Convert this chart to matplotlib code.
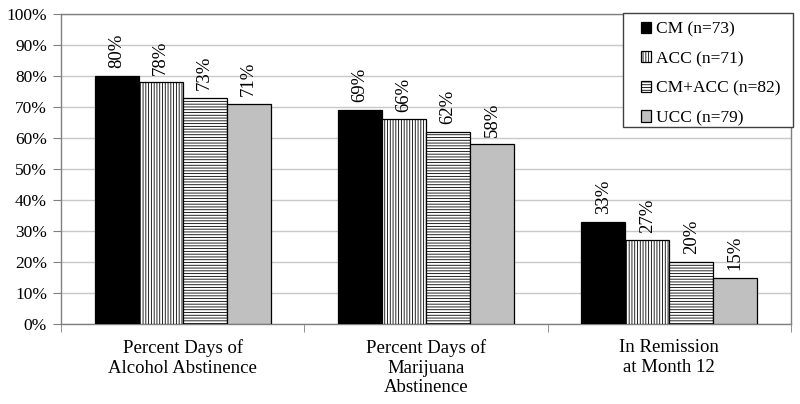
import matplotlib.pyplot as plt
from matplotlib.patches import Rectangle
import numpy as np

plt.rcParams['font.family'] = ['Liberation Serif', 'DejaVu Serif']
plt.rcParams['hatch.linewidth'] = 0.6
plt.rcParams['hatch.color'] = 'black'

categories = ['Percent Days of\nAlcohol Abstinence',
              'Percent Days of\nMarijuana\nAbstinence',
              'In Remission\nat Month 12']
series = ['CM (n=73)', 'ACC (n=71)', 'CM+ACC (n=82)', 'UCC (n=79)']
cm = [80, 69, 33]
acc = [78, 66, 27]
cm_acc = [73, 62, 20]
ucc = [71, 58, 15]

values = [cm, acc, cm_acc, ucc]
faces = ['black', 'white', 'white', '#c0c0c0']
hatches = [None, '||||||', '------', None]

W, H = 800, 404
fig = plt.figure(figsize=(W / 100, H / 100), dpi=100)
ax = fig.add_axes([61 / W, 80 / H, 730 / W, 310 / H])

x = np.arange(len(categories))
w = 0.181
for j, (vals, fc, h, lab) in enumerate(zip(values, faces, hatches, series)):
    pos = x + (j - 1.5) * w
    bars = ax.bar(pos, vals, w, color=fc, edgecolor='black', linewidth=0.9,
                  hatch=h, label=lab, zorder=3)
    for b, v in zip(bars, vals):
        ax.annotate(f'{v}%', (b.get_x() + b.get_width() / 2, v),
                    xytext=(0, 5.5), textcoords='offset points',
                    ha='center', va='bottom', rotation=90, fontsize=13.5)

ax.set_xlim(-0.5, 2.5)
ax.set_ylim(0, 100)
ax.set_yticks(range(0, 101, 10))
ax.set_yticklabels([f'{t}%' for t in range(0, 101, 10)], fontsize=12.5)
ax.yaxis.grid(True, color='#c8c8c8', linewidth=1, zorder=0)
ax.set_axisbelow(True)

ax.set_xticks(x)
ax.set_xticklabels(categories, fontsize=13.5)
ax.set_xticks([-0.5, 0.5, 1.5, 2.5], minor=True)
ax.tick_params(axis='x', which='major', length=0, pad=11)
ax.tick_params(axis='x', which='minor', length=6, color='#808080')
ax.tick_params(axis='y', length=6, color='#808080', pad=4)

for s in ax.spines.values():
    s.set_color('#808080')
    s.set_linewidth(1)

# legend contents without frame, frame drawn separately
leg = fig.legend(*ax.get_legend_handles_labels(), loc='upper left',
                 bbox_to_anchor=(641 / W, 1 - 21.5 / H), frameon=False,
                 borderpad=0, borderaxespad=0, fontsize=12.5,
                 handlelength=0.6, handleheight=0.6, handletextpad=0.25,
                 labelspacing=0.78)
fig.add_artist(Rectangle((623 / W, 1 - 127 / H), 170 / W, 114 / H,
                         transform=fig.transFigure, facecolor='white',
                         edgecolor='#404040', linewidth=1, zorder=4))
leg.set_zorder(5)

fig.savefig('out.png', dpi=100)
